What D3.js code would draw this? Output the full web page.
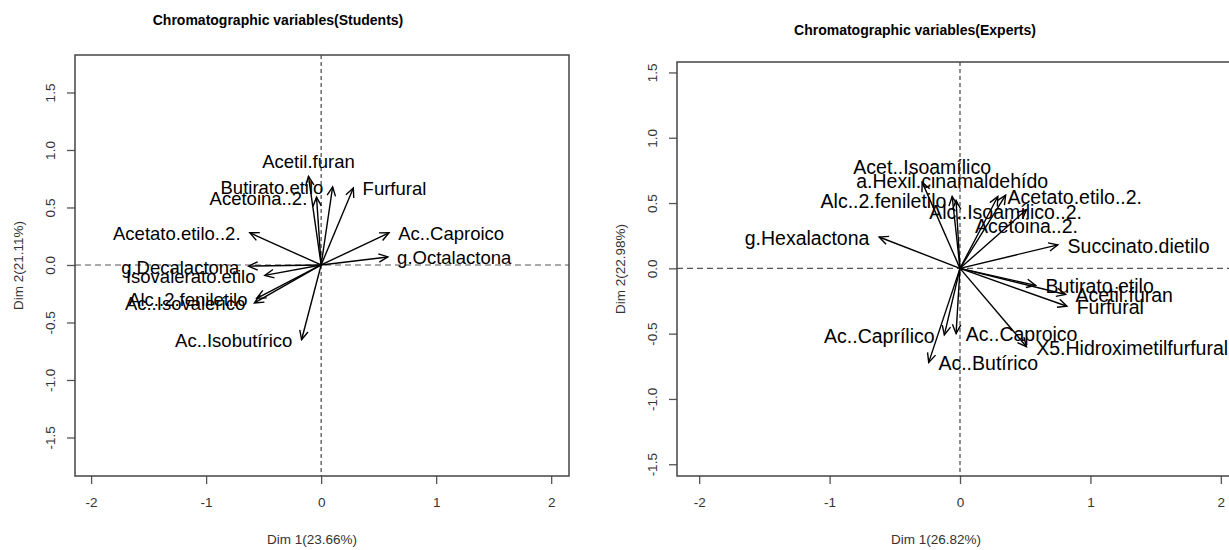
<!DOCTYPE html>
<html>
<head>
<meta charset="utf-8">
<script src="https://cdn.jsdelivr.net/npm/d3@7/dist/d3.min.js"></script>
<style>
  body { margin: 0; background: #fff; }
  svg { font-family: "Liberation Sans", Arial, sans-serif; }
</style>
</head>
<body>
<div id="chart"></div>
<script>
// Students panel
var studentVars = ["Acetil.furan", "Butirato.etilo", "Acetoina..2.", "Furfural", "Acetato.etilo..2.",
                   "Ac..Caproico", "g.Octalactona", "g.Decalactona", "Isovalerato.etilo",
                   "Alc..2.feniletilo", "Ac..Isovalerico", "Ac..Isobutírico"];
var studentDim1 = [-0.11, 0.10, -0.04, 0.28, -0.62, 0.59, 0.58, -0.63, -0.49, -0.56, -0.58, -0.17];
var studentDim2 = [0.77, 0.68, 0.59, 0.67, 0.28, 0.28, 0.07, -0.01, -0.09, -0.29, -0.33, -0.65];
// label side, as R text(pos=): 1 below, 2 left, 3 above, 4 right
var studentPos = [3, 2, 2, 4, 2, 4, 4, 2, 2, 2, 2, 2];

// Experts panel
var expertVars = ["Acet..Isoamílico", "a.Hexil.cinamaldehído", "Alc..2.feniletilo", "Acetato.etilo..2.",
                  "Alc..Isoamílico..2.", "Acetoina..2.", "g.Hexalactona", "Succinato.dietilo",
                  "Butirato.etilo", "Acetil.furan", "Furfural", "X5.Hidroximetilfurfural",
                  "Ac..Caproico", "Ac..Caprílico", "Ac..Butírico"];
var expertDim1 = [-0.29, -0.06, -0.03, 0.29, 0.35, 0.51, -0.62, 0.75, 0.58, 0.81, 0.82, 0.51, -0.03, -0.12, -0.24];
var expertDim2 = [0.66, 0.55, 0.52, 0.55, 0.56, 0.45, 0.24, 0.18, -0.13, -0.20, -0.29, -0.60, -0.50, -0.51, -0.72];
var expertPos = [3, 3, 2, 4, 1, 1, 2, 4, 4, 4, 4, 4, 4, 2, 4];

var xTicks = [-2, -1, 0, 1, 2];
var yTicks = [-1.5, -1.0, -0.5, 0.0, 0.5, 1.0, 1.5];

var svg = d3.select("#chart").append("svg")
    .attr("width", 1229)
    .attr("height", 550);

function gen_panel(p) {
  var x = d3.scaleLinear().domain(p.xDomain).range([p.left, p.right]);
  var y = d3.scaleLinear().domain(p.yDomain).range([p.bottom, p.top]);

  var g = svg.append("g");

  // x axis
  var xAxis = g.append("g")
      .attr("transform", "translate(0," + p.bottom + ")")
      .call(d3.axisBottom(x).tickValues(xTicks).tickSize(8).tickSizeOuter(0)
            .tickFormat(function(d) { return String(d).replace("−", "-"); }));
  xAxis.select(".domain").remove();
  xAxis.selectAll("line").attr("stroke", "#555").attr("stroke-width", 1.3);
  xAxis.selectAll("text")
      .attr("y", 21)
      .attr("fill", "#333")
      .style("font-size", "13.5px")
      .style("font-family", "Liberation Sans, Arial, sans-serif");

  // y axis, labels parallel to the axis
  var yAxis = g.append("g")
      .attr("transform", "translate(" + p.left + ",0)")
      .call(d3.axisLeft(y).tickValues(yTicks).tickSize(8).tickSizeOuter(0)
            .tickFormat(function(d) { return d3.format(".1f")(d).replace("−", "-"); }));
  yAxis.select(".domain").remove();
  yAxis.selectAll("line").attr("stroke", "#555").attr("stroke-width", 1.3);
  yAxis.selectAll("text")
      .attr("x", 0)
      .attr("y", -20)
      .attr("dy", 0)
      .attr("transform", "rotate(-90)")
      .attr("fill", "#333")
      .style("text-anchor", "middle")
      .style("font-size", "13.5px")
      .style("font-family", "Liberation Sans, Arial, sans-serif");

  // reference lines
  g.append("line")
      .attr("x1", p.left).attr("x2", p.right)
      .attr("y1", y(0)).attr("y2", y(0))
      .attr("stroke", "#555").attr("stroke-width", 1.1)
      .attr("stroke-dasharray", "6,4");
  g.append("line")
      .attr("x1", x(0)).attr("x2", x(0))
      .attr("y1", p.top).attr("y2", p.bottom)
      .attr("stroke", "#333").attr("stroke-width", 1.1)
      .attr("stroke-dasharray", "4,3");

  // box
  g.append("rect")
      .attr("x", p.left).attr("y", p.top)
      .attr("width", p.right - p.left).attr("height", p.bottom - p.top)
      .attr("fill", "none")
      .attr("stroke", "#444")
      .attr("stroke-width", 1.5);

  var data = p.vars.map(function(name, i) {
    return {name: name, d1: p.dim1[i], d2: p.dim2[i], pos: p.pos[i]};
  });

  // arrows
  var headLen = 10, headAng = 25 * Math.PI / 180;
  var off = p.labelSize * 0.5;
  var arrows = g.selectAll(".arrow")
      .data(data)
    .enter().append("g")
      .attr("class", "arrow");

  arrows.append("line")
      .attr("x1", x(0)).attr("y1", y(0))
      .attr("x2", function(d) { return x(d.d1); })
      .attr("y2", function(d) { return y(d.d2); })
      .attr("stroke", "#000")
      .attr("stroke-width", 1.4);

  arrows.append("path")
      .attr("d", function(d) {
        var tx = x(d.d1), ty = y(d.d2);
        var a = Math.atan2(ty - y(0), tx - x(0));
        var p1 = [tx - headLen * Math.cos(a - headAng), ty - headLen * Math.sin(a - headAng)];
        var p2 = [tx - headLen * Math.cos(a + headAng), ty - headLen * Math.sin(a + headAng)];
        return "M" + p1 + "L" + tx + "," + ty + "L" + p2;
      })
      .attr("fill", "none")
      .attr("stroke", "#000")
      .attr("stroke-width", 1.4);

  // variable labels
  arrows.append("text")
      .attr("x", function(d) {
        if (d.pos == 2) return x(d.d1) - off;
        if (d.pos == 4) return x(d.d1) + off;
        return x(d.d1);
      })
      .attr("y", function(d) {
        if (d.pos == 3) return y(d.d2) - 15;
        if (d.pos == 1) return y(d.d2) + 17;
        return y(d.d2) + 1;
      })
      .attr("dy", "0.35em")
      .style("text-anchor", function(d) {
        if (d.pos == 2) return "end";
        if (d.pos == 4) return "start";
        return "middle";
      })
      .style("font-size", p.labelSize + "px")
      .attr("fill", "#000")
      .text(function(d) { return d.name; });

  // titles
  svg.append("text")
      .attr("x", p.titleX).attr("y", p.titleY)
      .style("text-anchor", "middle")
      .style("font-size", "14px")
      .style("font-weight", "bold")
      .text(p.title);

  svg.append("text")
      .attr("x", p.xLabX).attr("y", 539)
      .attr("dy", "0.35em")
      .style("text-anchor", "middle")
      .style("font-size", "13.5px")
      .attr("fill", "#333")
      .text(p.xLabel);

  svg.append("text")
      .attr("transform", "translate(" + (p.left - 57) + "," + ((p.top + p.bottom) / 2) + ") rotate(-90)")
      .attr("dy", "0.35em")
      .style("text-anchor", "middle")
      .style("font-size", "13.5px")
      .attr("fill", "#333")
      .text(p.yLabel);
}

gen_panel({
  vars: studentVars, dim1: studentDim1, dim2: studentDim2, pos: studentPos,
  xDomain: [-2.14, 2.155], yDomain: [-1.835, 1.826],
  left: 75, right: 569, top: 55, bottom: 476, labelSize: 18.5,
  title: "Chromatographic variables(Students)", titleX: 278, titleY: 25,
  xLabel: "Dim 1(23.66%)", xLabX: 312,
  yLabel: "Dim 2(21.11%)"
});

gen_panel({
  vars: expertVars, dim1: expertDim1, dim2: expertDim2, pos: expertPos,
  xDomain: [-2.17, 2.17], yDomain: [-1.59, 1.58],
  left: 677, right: 1243, top: 62, bottom: 476, labelSize: 19.5,
  title: "Chromatographic variables(Experts)", titleX: 915, titleY: 35,
  xLabel: "Dim 1(26.82%)", xLabX: 936,
  yLabel: "Dim 2(22.98%)"
});
</script>
</body>
</html>
